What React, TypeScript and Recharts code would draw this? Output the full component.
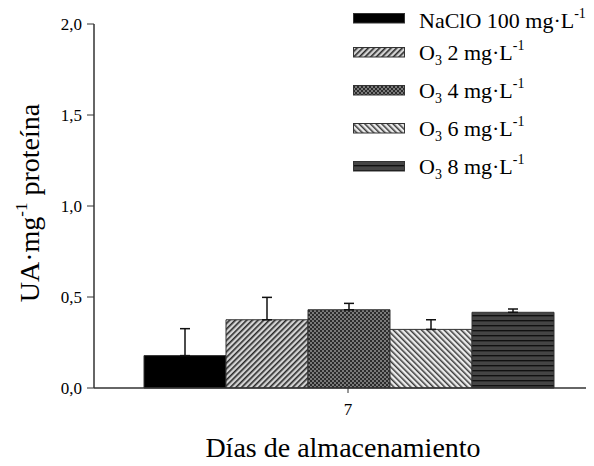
import React from "react";
import { BarChart, Bar, XAxis, YAxis, ErrorBar, Legend } from "recharts";

const categories = ["7"];
const seriesKeys = ["naclo", "o3_2", "o3_4", "o3_6", "o3_8"];
const seriesNames = ["NaClO 100 mg·L-1", "O3 2 mg·L-1", "O3 4 mg·L-1", "O3 6 mg·L-1", "O3 8 mg·L-1"];
const nacloValues = [0.178];
const o3_2Values = [0.375];
const o3_4Values = [0.43];
const o3_6Values = [0.322];
const o3_8Values = [0.416];
const nacloErr = [0.148];
const o3_2Err = [0.123];
const o3_4Err = [0.035];
const o3_6Err = [0.053];
const o3_8Err = [0.018];
const yTicks = [0, 0.5, 1, 1.5, 2];

const seriesValues = [nacloValues, o3_2Values, o3_4Values, o3_6Values, o3_8Values];
const seriesErrors = [nacloErr, o3_2Err, o3_4Err, o3_6Err, o3_8Err];
const fills = ["#000000", "url(#pat2)", "url(#pat4)", "url(#pat6)", "url(#pat8)"];

const data = categories.map((c, i) => {
  const row: any = { day: c };
  seriesKeys.forEach((k, s) => {
    row[k] = seriesValues[s][i];
    row[k + "_err"] = [0, seriesErrors[s][i]];
  });
  return row;
});

const FONT = "Liberation Serif, Times New Roman, serif";

function legendText(name: string, x: number, y: number) {
  let main = name;
  let sup = "";
  if (main.endsWith("-1")) {
    sup = "-1";
    main = main.slice(0, -2);
  }
  let prefix = main;
  let sub = "";
  let rest = "";
  if (main.startsWith("O3 ")) {
    prefix = "O";
    sub = "3";
    rest = main.slice(2);
  }
  return (
    <text x={x} y={y} fontFamily={FONT} fontSize={22} fill="#000">
      <tspan>{prefix}</tspan>
      {sub && (
        <tspan fontSize={14} dy={5}>
          {sub}
        </tspan>
      )}
      {sub ? <tspan dy={-5}>{rest}</tspan> : null}
      {sup && (
        <tspan fontSize={14} dy={-10}>
          {sup}
        </tspan>
      )}
    </text>
  );
}

const swatchTops = [13, 47, 85, 123, 161];
const baselineOffsets = [15, 13, 13, 13, 13];

function renderLegend(props: any) {
  const payload = props.payload || [];
  return (
    <svg width={241} height={185} style={{ display: "block", overflow: "visible" }}>
      {payload.map((entry: any, i: number) => (
        <g key={i}>
          <rect x={0.5} y={swatchTops[i] + 0.5} width={51} height={9.5} fill={entry.color} stroke="#333" strokeWidth={1} />
          {legendText(entry.value, 66, swatchTops[i] + baselineOffsets[i])}
        </g>
      ))}
    </svg>
  );
}

function YLabel(props: any) {
  const vb = props.viewBox || { x: 0, y: 24, width: 94, height: 364 };
  const cx = 39;
  const cy = vb.y + vb.height / 2 - 3;
  return (
    <text
      x={cx}
      y={cy}
      transform={`rotate(-90, ${cx}, ${cy})`}
      textAnchor="middle"
      fontFamily={FONT}
      fontSize={28}
      fill="#000"
    >
      <tspan>UA·mg</tspan>
      <tspan fontSize={17} dy={-12}>-1</tspan>
      <tspan dy={12}> proteína</tspan>
    </text>
  );
}

function XLabel(props: any) {
  const vb = props.viewBox || { x: 94, y: 388, width: 508, height: 78 };
  const cx = vb.x + vb.width / 2 - 5;
  return (
    <text x={cx} y={457} textAnchor="middle" fontFamily={FONT} fontSize={28} fill="#000">
      Días de almacenamiento
    </text>
  );
}

export default function App() {
  return (
    <div
      style={{
        margin: -8,
        width: 594,
        height: 466,
        overflow: "hidden",
        position: "relative",
        background: "#fff",
        fontFamily: FONT,
      }}
    >
      <BarChart
        width={602}
        height={466}
        data={data}
        margin={{ top: 24, right: 0, bottom: 0, left: 0 }}
        barCategoryGap={50}
        barGap={0}
        style={{ fontFamily: FONT }}
      >
        <defs>
          <pattern id="pat2" patternUnits="userSpaceOnUse" width={4} height={4} patternTransform="rotate(45)">
            <rect width={4} height={4} fill="#d4d4d4" />
            <rect width={1.6} height={4} fill="#2a2a2a" />
          </pattern>
          <pattern id="pat4" patternUnits="userSpaceOnUse" width={4} height={4}>
            <rect width={4} height={4} fill="#2c2c2c" />
            <rect x={0} y={0} width={2} height={2} fill="#7a7a7a" />
            <rect x={2} y={2} width={2} height={2} fill="#7a7a7a" />
          </pattern>
          <pattern id="pat6" patternUnits="userSpaceOnUse" width={4} height={4} patternTransform="rotate(-45)">
            <rect width={4} height={4} fill="#ececec" />
            <rect width={1.5} height={4} fill="#3a3a3a" />
          </pattern>
          <pattern id="pat8" patternUnits="userSpaceOnUse" width={5} height={5}>
            <rect width={5} height={5} fill="#454545" />
            <rect y={0} width={5} height={1.4} fill="#111" />
          </pattern>
        </defs>
        <XAxis
          dataKey="day"
          height={78}
          axisLine={{ stroke: "#333", strokeWidth: 1.5 }}
          tickLine={{ stroke: "#333" }}
          tickSize={5}
          tickMargin={10}
          tick={{ fontFamily: FONT, fontSize: 17, fill: "#000" }}
          label={<XLabel />}
        />
        <YAxis
          width={94}
          domain={[0, 2]}
          ticks={yTicks}
          axisLine={{ stroke: "#333", strokeWidth: 1.5 }}
          tickLine={{ stroke: "#333" }}
          tickSize={7}
          tickMargin={5}
          tickFormatter={(v: number) => v.toFixed(1).replace(".", ",")}
          tick={{ fontFamily: FONT, fontSize: 17, fill: "#000" }}
          label={<YLabel />}
        />
        <Legend
          layout="vertical"
          verticalAlign="middle"
          align="center"
          content={renderLegend}
          wrapperStyle={{ position: "absolute", top: 0, left: 353, width: 241, height: 185 }}
        />
        {seriesKeys.map((k, s) => (
          <Bar
            key={k}
            dataKey={k}
            name={seriesNames[s]}
            fill={fills[s]}
            stroke="#333"
            strokeWidth={1}
            isAnimationActive={false}
          >
            <ErrorBar dataKey={k + "_err"} width={5} stroke="#111" strokeWidth={1.5} direction="y" />
          </Bar>
        ))}
      </BarChart>
    </div>
  );
}
